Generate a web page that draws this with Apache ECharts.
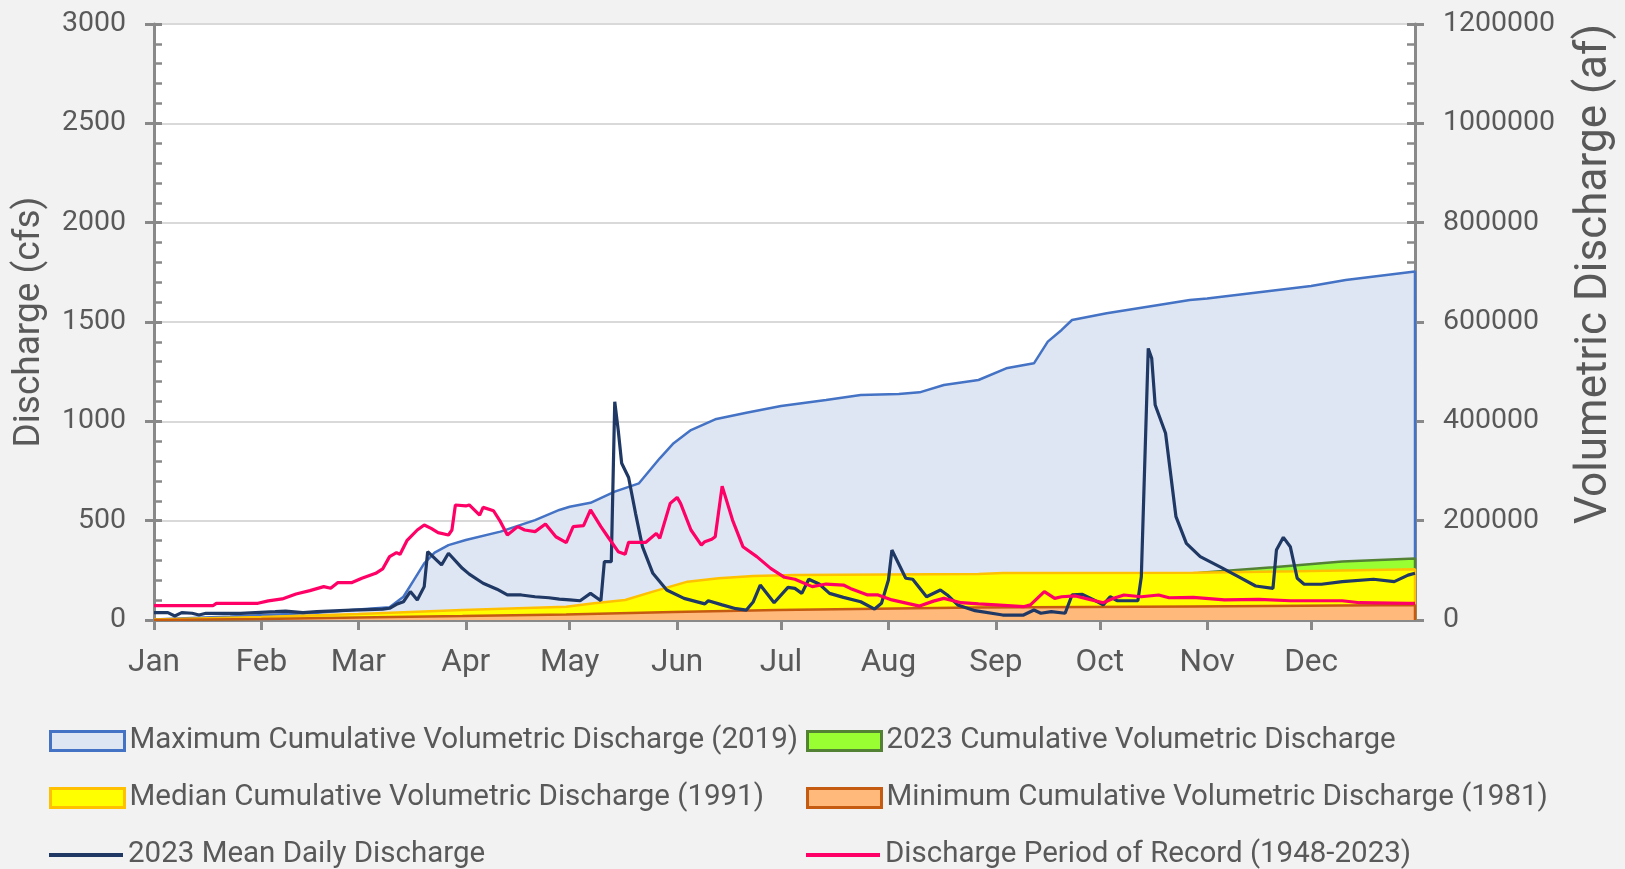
<!DOCTYPE html>
<html>
<head>
<meta charset="utf-8">
<title>Discharge</title>
<script src="https://cdn.jsdelivr.net/npm/echarts@6/dist/echarts.min.js"></script>
<style>
  html, body { margin: 0; padding: 0; background: #f2f2f2; }
  #chart { width: 1625px; height: 869px; }
</style>
</head>
<body>
<div id="chart"></div>
<script>
// month ticks (day of year, 0 = Jan 1)
const monthStarts = [0, 31, 59, 90, 120, 151, 181, 212, 243, 273, 304, 334]
const monthNames = ['Jan', 'Feb', 'Mar', 'Apr', 'May', 'Jun', 'Jul', 'Aug', 'Sep', 'Oct', 'Nov', 'Dec']

// Maximum cumulative volumetric discharge (2019), af
const maxDays = [0, 22, 47, 60, 68, 72, 75, 78, 81, 85, 90, 100, 110, 117, 120, 126, 133, 140, 146, 150, 155, 162, 171, 181, 194, 204, 215, 221, 228, 238, 246, 254, 258, 262, 265, 275, 290, 299, 304, 334, 344, 364]
const maxAf = [1200, 6800, 14800, 21600, 25600, 46800, 80400, 114000, 135600, 150800, 161200, 178000, 201200, 221600, 228000, 236000, 258400, 275200, 325600, 356000, 382400, 404000, 417200, 430800, 442800, 453200, 455200, 458400, 473200, 483200, 506800, 516800, 560400, 584000, 604000, 617600, 634400, 644400, 647200, 672400, 684400, 701600]

// 2023 cumulative volumetric discharge, af
const cumDays = [0, 31, 59, 90, 120, 133, 140, 150, 180, 210, 240, 284, 288, 292, 296, 303, 323, 343, 364]
const cumAf = [0, 2600, 5200, 12000, 21000, 27000, 33000, 36000, 42000, 48000, 54000, 64000, 70000, 80000, 90000, 95600, 106000, 117600, 124000]

// Median cumulative volumetric discharge (1991), af
const medDays = [0, 31, 59, 89, 119, 127, 136, 144, 154, 163, 173, 185, 238, 245, 300, 330, 364]
const medAf = [800, 6000, 12000, 20000, 26800, 33600, 40400, 57200, 77200, 84000, 88400, 90400, 92800, 94400, 95200, 98000, 102000]

// Minimum cumulative volumetric discharge (1981), af
const minDays = [0, 31, 59, 89, 119, 150, 180, 237, 300, 364]
const minAf = [0, 2000, 5200, 8000, 11200, 16000, 20000, 25000, 27000, 30000]

// 2023 mean daily discharge, cfs
const meanDays = [0, 4, 6, 8, 11, 13, 15, 25, 35, 38, 43, 47, 57, 66, 68, 70, 72, 74, 76, 78, 79, 83, 85, 89, 91, 95, 99, 102, 106, 110, 114, 117, 120, 123, 126, 129, 130, 132, 133, 134, 135, 137, 139, 141, 144, 148, 153, 159, 160, 164, 168, 171, 173, 175, 179, 183, 185, 187, 189, 192, 195, 199, 204, 208, 210, 212, 213, 217, 219, 223, 227, 229, 232, 237, 245, 251, 254, 256, 259, 263, 265, 268, 271, 274, 276, 278, 284, 285, 287, 288, 289, 292, 295, 298, 302, 308, 313, 318, 323, 324, 326, 328, 330, 332, 337, 343, 352, 358, 362, 364]
const meanCfs = [37, 37, 20, 37, 34, 25, 34, 33, 42, 45, 37, 42, 50, 55, 59, 79, 92, 143, 101, 168, 344, 277, 336, 260, 231, 185, 155, 126, 126, 117, 112, 105, 101, 97, 134, 97, 294, 294, 1099, 956, 789, 717, 537, 369, 235, 151, 109, 81, 97, 76, 57, 50, 92, 176, 87, 164, 159, 134, 205, 181, 134, 114, 92, 55, 84, 201, 352, 210, 205, 117, 151, 126, 76, 47, 25, 25, 50, 34, 42, 34, 126, 129, 104, 76, 117, 97, 97, 218, 1367, 1317, 1082, 940, 520, 386, 319, 265, 218, 171, 159, 352, 416, 369, 210, 180, 180, 193, 205, 193, 226, 235]

// Discharge period of record (1948-2023), cfs
const porDays = [0, 17, 18, 30, 33, 37, 41, 45, 49, 51, 53, 57, 60, 64, 66, 68, 70, 71, 73, 76, 78, 80, 82, 85, 86, 87, 90, 91, 94, 95, 98, 100, 102, 105, 107, 110, 113, 116, 119, 121, 124, 126, 129, 131, 134, 136, 137, 142, 145, 146, 149, 151, 152, 155, 158, 159, 161, 162, 164, 167, 170, 174, 178, 182, 185, 190, 194, 199, 201, 206, 209, 213, 221, 225, 228, 233, 238, 243, 251, 253, 257, 260, 262, 266, 270, 274, 277, 280, 285, 290, 293, 300, 309, 319, 328, 343, 348, 362, 364]
const porCfs = [72, 72, 84, 84, 96, 106, 131, 148, 168, 160, 188, 188, 210, 235, 257, 319, 339, 330, 399, 453, 478, 461, 440, 428, 453, 579, 574, 579, 528, 567, 550, 495, 428, 470, 453, 445, 483, 419, 389, 470, 475, 554, 470, 419, 344, 331, 391, 391, 436, 411, 587, 617, 587, 453, 377, 394, 406, 419, 674, 503, 369, 319, 260, 215, 205, 168, 181, 176, 159, 126, 126, 101, 70, 95, 109, 87, 81, 76, 67, 76, 143, 109, 117, 121, 104, 87, 109, 126, 117, 126, 112, 114, 101, 104, 97, 97, 87, 84, 84]

const textColor = '#595959'
const axisColor = '#898989'
const font = 'Roboto'

const names = {
  max: 'Maximum Cumulative Volumetric Discharge (2019)',
  cum: '2023 Cumulative Volumetric Discharge',
  med: 'Median Cumulative Volumetric Discharge (1991)',
  min: 'Minimum Cumulative Volumetric Discharge (1981)',
  mean: '2023 Mean Daily Discharge',
  por: 'Discharge Period of Record (1948-2023)'
}

function pairs(days, vals) {
  return days.map((d, i) => [d, vals[i]])
}
// area outline closes down to zero at the last day, like the original
function withDrop(days, vals) {
  const p = pairs(days, vals)
  p.push([days[days.length - 1], 0])
  return p
}

function areaSeries(name, days, vals, fill, stroke, z) {
  return {
    name: name,
    type: 'line',
    z: z,
    xAxisIndex: 0,
    yAxisIndex: 1,
    symbol: 'none',
    data: withDrop(days, vals),
    lineStyle: { color: stroke, width: 2.5 },
    itemStyle: { color: stroke },
    areaStyle: { color: fill, opacity: 1 }
  }
}

function lineSeries(name, days, vals, color, z) {
  return {
    name: name,
    type: 'line',
    z: z,
    xAxisIndex: 0,
    yAxisIndex: 0,
    symbol: 'none',
    data: pairs(days, vals),
    lineStyle: { color: color, width: 3.2 },
    itemStyle: { color: color }
  }
}

const lineIcon = 'path://M0,0H74V4H0Z'

// one legend block per entry so the two columns line up like the original
function legendItem(name, left, top, icon, itemStyle) {
  return {
    left: left,
    top: top,
    itemWidth: 74,
    itemHeight: 19,
    selectedMode: false,
    textStyle: { fontFamily: font, fontSize: 29.5, color: textColor },
    data: [{ name: name, icon: icon, itemStyle: itemStyle }]
  }
}

const chart = echarts.init(document.getElementById('chart'), null, { renderer: 'canvas' })

chart.setOption({
  backgroundColor: '#f2f2f2',
  animation: false,
  grid: {
    left: 154,
    right: 210,
    top: 24,
    bottom: 249,
    show: true,
    backgroundColor: '#ffffff',
    borderWidth: 0
  },
  legend: [
    legendItem(names.max, 44, 721, 'rect', { color: '#dfe6f3', borderColor: '#4472c4', borderWidth: 3 }),
    legendItem(names.med, 44, 778, 'rect', { color: '#ffff00', borderColor: '#ffc000', borderWidth: 3 }),
    legendItem(names.mean, 44, 835, lineIcon, { color: '#1f3864', borderWidth: 0 }),
    legendItem(names.cum, 801, 721, 'rect', { color: '#99ff33', borderColor: '#548235', borderWidth: 3 }),
    legendItem(names.min, 801, 778, 'rect', { color: '#ffb97a', borderColor: '#c55a11', borderWidth: 3 }),
    legendItem(names.por, 801, 835, lineIcon, { color: '#ff0066', borderWidth: 0 })
  ],
  xAxis: [{
    type: 'value',
    min: 0,
    max: 364,
    axisLine: { lineStyle: { color: axisColor, width: 3 } },
    axisTick: { show: true, length: 10, lineStyle: { color: axisColor, width: 3 }, customValues: monthStarts },
    axisLabel: {
      customValues: monthStarts,
      formatter: v => monthNames[monthStarts.indexOf(v)],
      fontFamily: font,
      fontSize: 31.5,
      color: textColor,
      margin: 27
    },
    splitLine: { show: false }
  }],
  yAxis: [{
    type: 'value',
    position: 'left',
    min: 0,
    max: 3000,
    interval: 500,
    name: 'Discharge (cfs)',
    nameLocation: 'middle',
    nameRotate: 90,
    nameGap: 106,
    nameTextStyle: { fontFamily: font, fontSize: 37, color: textColor },
    axisLine: { show: true, lineStyle: { color: axisColor, width: 3 } },
    axisTick: { show: true, inside: true, length: 8, lineStyle: { color: axisColor, width: 3 } },
    minorTick: { show: true, splitNumber: 5, length: 8, lineStyle: { color: axisColor, width: 2.5 } },
    axisLabel: { fontFamily: font, fontSize: 28.5, color: textColor, margin: 28, formatter: v => String(v) },
    splitLine: { show: true, lineStyle: { color: '#d9d9d9', width: 2 } }
  }, {
    type: 'value',
    position: 'right',
    min: 0,
    max: 1200000,
    interval: 200000,
    name: 'Volumetric Discharge (af)',
    nameLocation: 'middle',
    nameRotate: 90,
    nameGap: 158,
    nameTextStyle: { fontFamily: font, fontSize: 44, color: textColor, padding: [0, 0, 0, 96] },
    axisLine: { show: true, lineStyle: { color: axisColor, width: 3 } },
    axisTick: { show: true, inside: true, length: 8, lineStyle: { color: axisColor, width: 3 } },
    minorTick: { show: true, splitNumber: 5, length: 8, lineStyle: { color: axisColor, width: 2.5 } },
    axisLabel: { fontFamily: font, fontSize: 28.5, color: textColor, margin: 28, formatter: v => String(v) },
    splitLine: { show: false }
  }, {
    // outer half of the left major ticks
    type: 'value',
    position: 'left',
    min: 0,
    max: 3000,
    interval: 500,
    axisLine: { show: false },
    axisTick: { show: true, length: 9, lineStyle: { color: axisColor, width: 3 } },
    axisLabel: { show: false },
    splitLine: { show: false }
  }, {
    // outer half of the right major ticks
    type: 'value',
    position: 'right',
    min: 0,
    max: 1200000,
    interval: 200000,
    axisLine: { show: false },
    axisTick: { show: true, length: 9, lineStyle: { color: axisColor, width: 3 } },
    axisLabel: { show: false },
    splitLine: { show: false }
  }],
  series: [
    areaSeries(names.max, maxDays, maxAf, '#dfe6f3', '#4472c4', 2),
    areaSeries(names.cum, cumDays, cumAf, '#99ff33', '#548235', 3),
    areaSeries(names.med, medDays, medAf, '#ffff00', '#ffc000', 4),
    areaSeries(names.min, minDays, minAf, '#ffb97a', '#c55a11', 5),
    lineSeries(names.mean, meanDays, meanCfs, '#1f3864', 6),
    lineSeries(names.por, porDays, porCfs, '#ff0066', 7)
  ]
})
</script>
</body>
</html>
